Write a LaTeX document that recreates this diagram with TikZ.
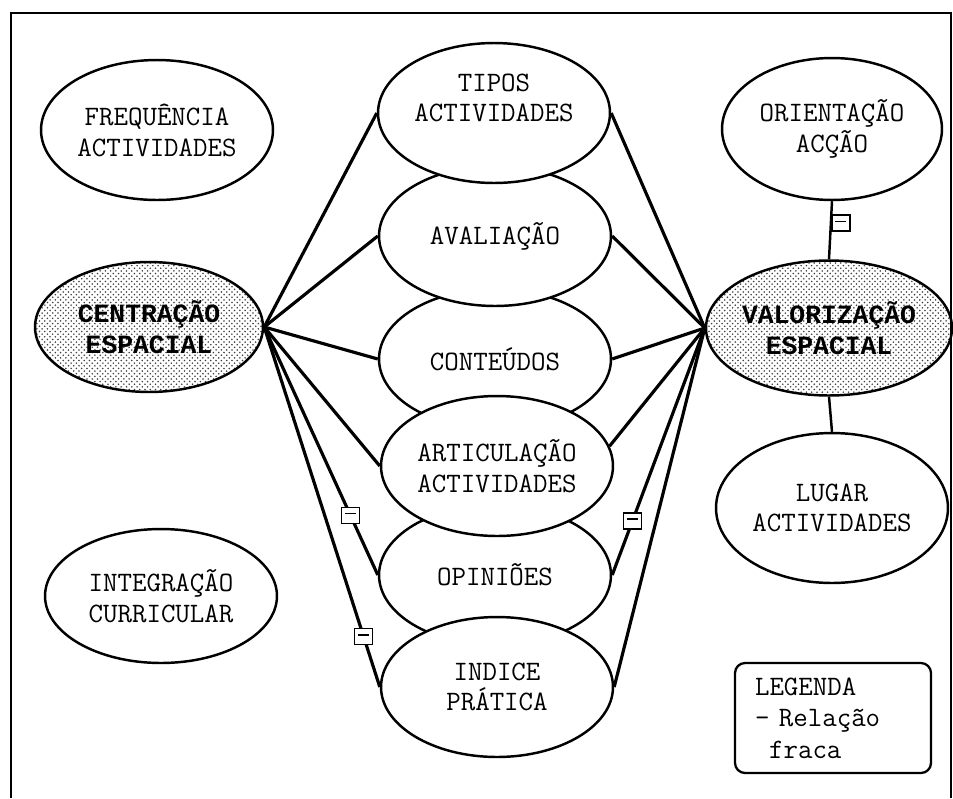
\documentclass[tikz,border=0pt]{standalone}
\usepackage{fontspec}
\newfontfamily\negrito{Liberation Mono}
\usepackage{tikz}
\usetikzlibrary{shapes.geometric,patterns}

\tikzset{
  conceito/.style={draw, ellipse, line width=1.4pt, fill=white, align=center, inner sep=0pt,
    font=\ttfamily\fontsize{16}{17.5}\selectfont, minimum width=4.64cm, minimum height=2.8cm},
  central/.style={conceito, fill=none, pattern=crosshatch dots, pattern color=black!75,
    font=\negrito\bfseries\fontsize{15}{17.5}\selectfont},
  ligacao/.style={line width=1.8pt},
  fraca/.style={draw, fill=white, line width=1pt, inner sep=0pt, minimum width=0.36cm, minimum height=0.32cm,
    path picture={\draw[line width=0.8pt] ([xshift=2pt,yshift=1pt]path picture bounding box.west) -- ([xshift=-2pt,yshift=1pt]path picture bounding box.east);}},
  legenda/.style={draw, rounded corners=0.2cm, line width=1.3pt, align=left, text width=3.12cm, inner xsep=0.4cm,
    minimum height=2.2cm, font=\ttfamily\fontsize{16}{18}\selectfont}
}

\begin{document}
\begin{tikzpicture}[x=0.02cm,y=-0.02cm]
\useasboundingbox (0,0) rectangle (953,798);
\draw[line width=1pt] (11,798) -- (11,13) -- (951,13) -- (951,798);

\node[conceito] (frequencia) at (157,130) {FREQUÊNCIA\\ACTIVIDADES};
\node[central, minimum width=4.56cm, minimum height=2.6cm] (centracao) at (149,327) {CENTRAÇÃO\\ESPACIAL};
\node[conceito, minimum height=2.68cm] (integracao) at (161,596) {INTEGRAÇÃO\\CURRICULAR};

\node[conceito] (conteudos) at (495,359) {CONTEÚDOS};
\node[conceito] (opinioes) at (495,575) {OPINIÕES};
\node[conceito] (avaliacao) at (495,236) {AVALIAÇÃO};
\node[conceito] (articulacao) at (497,466) {ARTICULAÇÃO\\ACTIVIDADES};
\node[conceito] (tipos) at (494,113) {TIPOS\\ACTIVIDADES\\\mbox{}};
\node[conceito] (indice) at (497,687) {INDICE\\PRÁTICA};

\node[conceito, minimum width=4.4cm, minimum height=2.84cm] (orientacao) at (832,129) {ORIENTAÇÃO\\ACÇÃO};
\node[central, minimum width=4.56cm, minimum height=2.7cm] (valorizacao) at (829,328) {VALORIZAÇÃO\\ESPACIAL};
\node[conceito, minimum height=3cm] (lugar) at (832,508) {LUGAR\\ACTIVIDADES};

\draw[ligacao] (centracao.east) -- (tipos.west);
\draw[ligacao] (centracao.east) -- (avaliacao.west);
\draw[ligacao] (centracao.east) -- (conteudos.west);
\draw[ligacao] (centracao.east) -- (articulacao.west);
\draw[ligacao] (centracao.east) -- (opinioes.west) node[fraca, pos=0.76] {};
\draw[ligacao] (centracao.east) -- (indice.west) node[fraca, pos=0.86] {};

\draw[ligacao] (valorizacao.west) -- (tipos.east);
\draw[ligacao] (valorizacao.west) -- (avaliacao.east);
\draw[ligacao] (valorizacao.west) -- (conteudos.east);
\draw[ligacao] (valorizacao.west) -- (articulacao.10);
\draw[ligacao] (valorizacao.west) -- (opinioes.east) node[fraca, pos=0.78] {};
\draw[ligacao] (valorizacao.west) -- (indice.east);

\draw[line width=1.4pt] (orientacao.south) -- (valorizacao.north) node[fraca, anchor=west, pos=0.38] {};
\draw[line width=1.4pt] (valorizacao.south) -- (lugar.north);

\node[legenda] (legenda) at (833,718) {LEGENDA\\- Relação\\\hspace*{0.5em}fraca};
\end{tikzpicture}
\end{document}
